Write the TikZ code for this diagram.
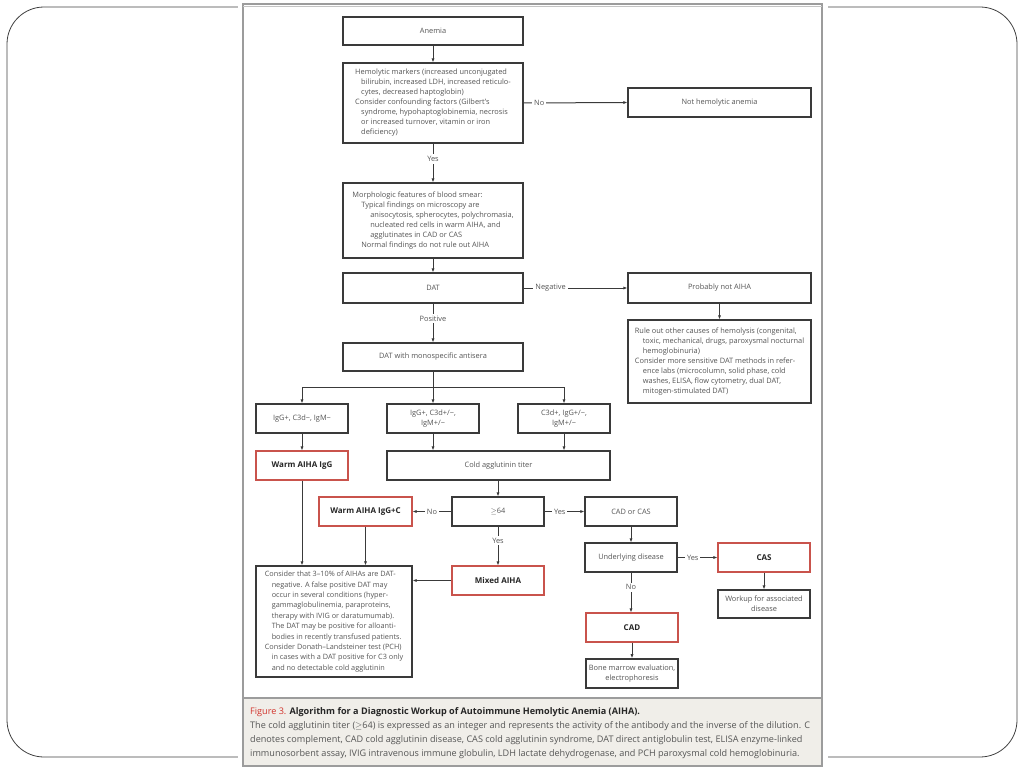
\documentclass[tikz,border=0pt]{standalone}
\usepackage{fontspec}
\setmainfont{Open Sans}
\usetikzlibrary{arrows.meta}

\definecolor{boxline}{HTML}{3A3A3A}
\definecolor{txtgray}{HTML}{555555}
\definecolor{redline}{HTML}{C9534C}
\definecolor{capbg}{HTML}{F0EEE9}
\definecolor{framegray}{HTML}{9C9C9C}
\definecolor{figred}{HTML}{D2332B}

\begin{document}
\begin{tikzpicture}
[x=1pt,y=-1pt]
\tikzset{
	box/.style = {draw=boxline, line width=1.3pt, fill=white, inner sep=0pt, align=center, text=txtgray, font=\fontsize{7.4}{10}\selectfont},
	redbox/.style = {box, draw=redline, line width=1.2pt, text=black!85, font=\fontsize{8}{10}\selectfont\bfseries},
	dims/.style 2 args = {minimum width=#1, minimum height=#2},
	arr/.style = {draw=boxline, line width=1pt, -{Latex[length=4pt,width=3.2pt]}},
	link/.style = {draw=boxline, line width=1pt},
	lbl/.style = {fill=white, inner sep=2pt, text=txtgray, font=\fontsize{7.4}{9}\selectfont}
}
\useasboundingbox (0,0) rectangle (1024,768);

% slide frame and figure panel
\draw[rounded corners=37pt, line width=0.8pt, black!75] (7,7) rectangle (1017,757);
\fill[white] (238,0) rectangle (828,768);
\fill[capbg] (243,698) rectangle (822,766);
\draw[framegray, line width=1.5pt] (243,4) rectangle (822,766);
\draw[framegray!60, line width=1pt] (243,6.5) -- (822,6.5);
\draw[framegray, line width=1.2pt] (243,698) -- (822,698);

% left column
\node[box, dims={180}{28}] (anemia) at (433,31) {Anemia};
\node[box, dims={180}{80}, align=left] (hemo) at (433,103) {Hemolytic markers (increased unconjugated\\
	\hspace*{6pt}bilirubin, increased LDH, increased reticulo-\\
	\hspace*{6pt}cytes, decreased haptoglobin)\\
	Consider confounding factors (Gilbert’s\\
	\hspace*{6pt}syndrome, hypohaptoglobinemia, necrosis\\
	\hspace*{6pt}or increased turnover, vitamin or iron\\
	\hspace*{6pt}deficiency)};
\node[box, dims={180}{75}, align=left] (morph) at (433,220.5) {Morphologic features of blood smear:\\
	\hspace*{9pt}Typical findings on microscopy are\\
	\hspace*{18pt}anisocytosis, spherocytes, polychromasia,\\
	\hspace*{18pt}nucleated red cells in warm AIHA, and\\
	\hspace*{18pt}agglutinates in CAD or CAS\\
	\hspace*{9pt}Normal findings do not rule out AIHA};
\node[box, dims={180}{30}] (dat) at (433,288) {DAT};
\node[box, dims={180}{28}] (mono) at (433,357) {DAT with monospecific antisera};

% right column
\node[box, dims={183}{29}] (nothemo) at (719.5,102.5) {Not hemolytic anemia};
\node[box, dims={183}{30}] (probnot) at (719.5,288) {Probably not AIHA};
\node[box, dims={183}{83}, align=left] (ruleout) at (719.5,361.5) {Rule out other causes of hemolysis (congenital,\\
	\hspace*{8pt}toxic, mechanical, drugs, paroxysmal nocturnal\\
	\hspace*{8pt}hemoglobinuria)\\
	Consider more sensitive DAT methods in refer-\\
	\hspace*{8pt}ence labs (microcolumn, solid phase, cold\\
	\hspace*{8pt}washes, ELISA, flow cytometry, dual DAT,\\
	\hspace*{8pt}mitogen-stimulated DAT)};

% antisera results
\node[box, dims={92}{29}] (igg) at (302,418.5) {IgG+, C3d−, IgM−};
\node[box, dims={92}{29}] (mixres) at (433,418.5) {IgG+, C3d+/−,\\ IgM+/−};
\node[box, dims={92}{29}] (c3d) at (564,418.5) {C3d+, IgG+/−,\\ IgM+/−};

% lower part
\node[redbox, dims={92}{29}] (warmigg) at (302,465.5) {Warm AIHA IgG};
\node[box, dims={223}{29}] (titer) at (498.5,465.5) {Cold agglutinin titer};
\node[box, dims={92}{29}] (ge64) at (498,511.5) {$\geq$64};
\node[redbox, dims={93}{29}] (warmiggc) at (365.5,511.5) {Warm AIHA IgG+C};
\node[redbox, dims={92}{29}] (mixed) at (498,580.5) {Mixed AIHA};
\node[box, dims={156}{111}, align=left, font=\fontsize{7.3}{10.4}\selectfont] (consider) at (334,621.5) {Consider that 3–10\% of AIHAs are DAT-\\
	\hspace*{7pt}negative. A false positive DAT may\\
	\hspace*{7pt}occur in several conditions (hyper-\\
	\hspace*{7pt}gammaglobulinemia, paraproteins,\\
	\hspace*{7pt}therapy with IVIG or daratumumab).\\
	\hspace*{7pt}The DAT may be positive for alloanti-\\
	\hspace*{7pt}bodies in recently transfused patients.\\
	Consider Donath–Landsteiner test (PCH)\\
	\hspace*{7pt}in cases with a DAT positive for C3 only\\
	\hspace*{7pt}and no detectable cold agglutinin};
\node[box, dims={92}{29}] (cadcas) at (631,511.5) {CAD or CAS};
\node[box, dims={92}{29}] (underlying) at (631,557.5) {Underlying disease};
\node[redbox, dims={92}{29}] (cas) at (764,557.5) {CAS};
\node[box, dims={92}{28}] (workup) at (764,604) {Workup for associated\\ disease};
\node[redbox, dims={92}{29}] (cad) at (632,627.5) {CAD};
\node[box, dims={92}{29}, line width=1.6pt] (bone) at (632,673.5) {Bone marrow evaluation,\\ electrophoresis};

% connectors
\draw[arr] (anemia) -- (hemo);
\draw[arr] (hemo) -- node[lbl, pos=0.4] {Yes} (morph);
\draw[arr] (hemo.east) -- node[lbl, pos=0.15] {No} (nothemo.west);
\draw[arr] (morph) -- (dat);
\draw[arr] (dat.east) -- node[lbl, pos=0.26] {Negative} (probnot.west);
\draw[arr] (dat) -- node[lbl, pos=0.38] {Positive} (mono);
\draw[arr] (probnot) -- (ruleout);

\coordinate (split) at (433,387);
\draw[link] (mono.south) -- (split);
\draw[arr] (split) -| (igg.north);
\draw[arr] (split) -- (mixres.north);
\draw[arr] (split) -| (c3d.north);

\draw[arr] (igg) -- (warmigg);
\draw[arr] (mixres.south) -- (mixres.south |- titer.north);
\draw[arr] (c3d.south) -- (c3d.south |- titer.north);
\draw[arr] (titer.south -| ge64) -- (ge64.north);
\draw[arr] (ge64.west) -- node[lbl] {No} (warmiggc.east);
\draw[arr] (ge64.east) -- node[lbl, pos=0.38] {Yes} (cadcas.west);
\draw[arr] (ge64) -- node[lbl, pos=0.36] {Yes} (mixed);
\draw[arr] (warmigg.south) -- (warmigg.south |- consider.north);
\draw[arr] (warmiggc.south) -- (warmiggc.south |- consider.north);
\draw[arr] (mixed.west) -- (mixed.west -| consider.east);
\draw[arr] (cadcas) -- (underlying);
\draw[arr] (underlying.east) -- node[lbl, pos=0.38] {Yes} (cas.west);
\draw[arr] (underlying.south) -- node[lbl, pos=0.37] {No} (underlying.south |- cad.north);
\draw[arr] (cas) -- (workup);
\draw[arr] (cad) -- (bone);

% caption
\node[anchor=north west, align=left, inner sep=0pt, text=txtgray, font=\fontsize{9.1}{13.8}\selectfont] (caption) at (250,707.5) {\textcolor{figred}{Figure 3.} \textcolor{black!85}{\textbf{Algorithm for a Diagnostic Workup of Autoimmune Hemolytic Anemia (AIHA).}}\\
	The cold agglutinin titer ($\geq$64) is expressed as an integer and represents the activity of the antibody and the inverse of the dilution. C\\
	denotes complement, CAD cold agglutinin disease, CAS cold agglutinin syndrome, DAT direct antiglobulin test, ELISA enzyme-linked\\
	immunosorbent assay, IVIG intravenous immune globulin, LDH lactate dehydrogenase, and PCH paroxysmal cold hemoglobinuria.};
\end{tikzpicture}
\end{document}
